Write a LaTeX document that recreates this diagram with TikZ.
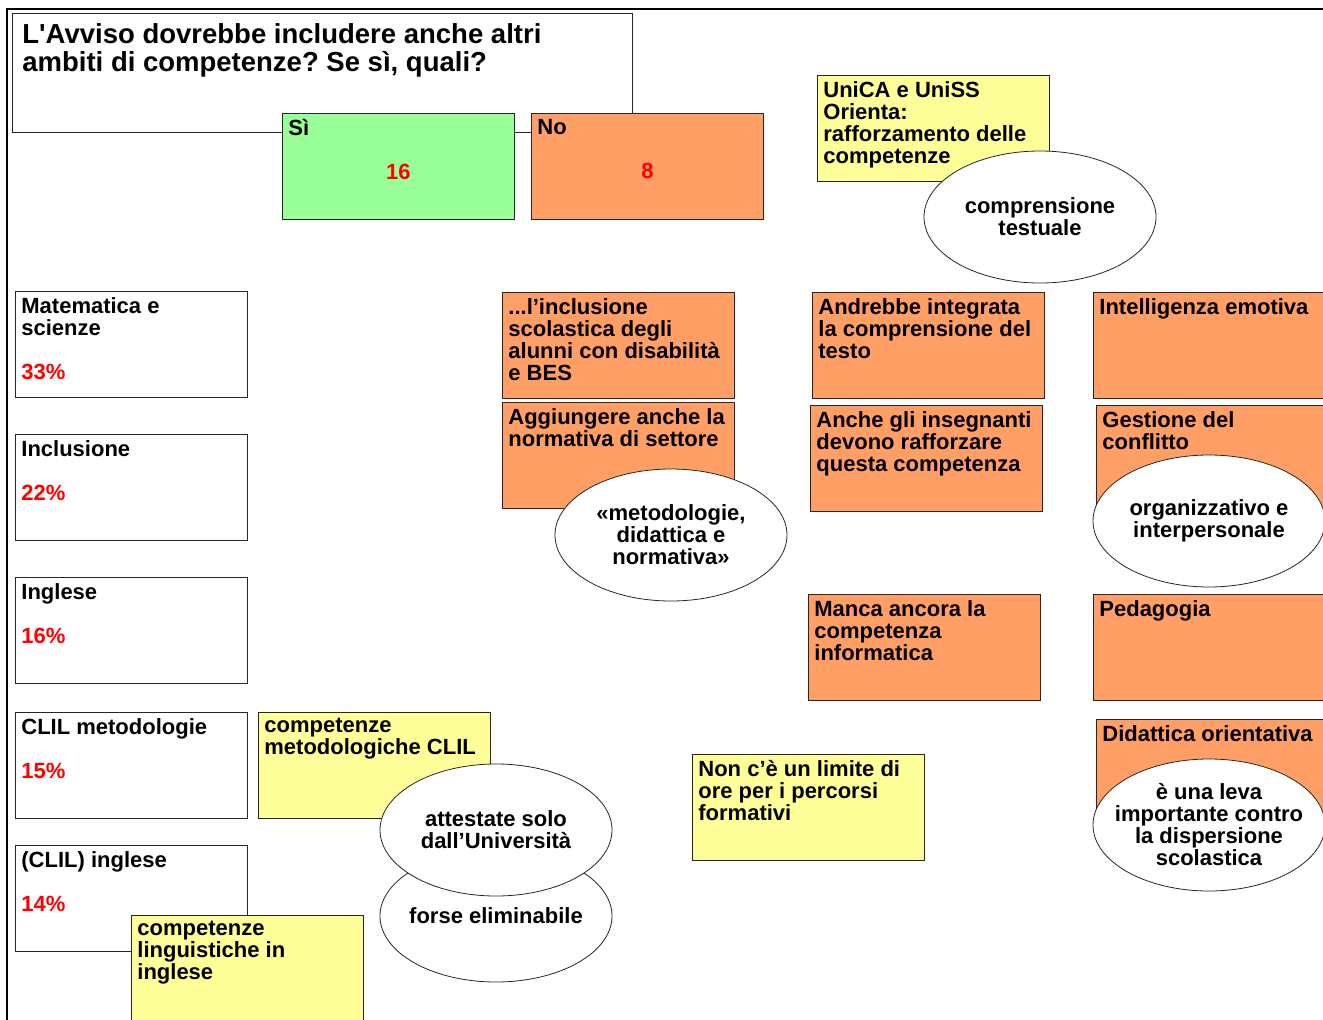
\documentclass[tikz,border=0pt]{standalone}
\usepackage{fontspec}
\setmainfont{Liberation Sans}
\usetikzlibrary{shapes.geometric}

\definecolor{verde}{HTML}{99FF99}
\definecolor{arancio}{HTML}{FF9F66}
\definecolor{giallo}{HTML}{FFFF99}

\newcommand{\card}[1]{\parbox[t][94pt][t]{220pt}{\raggedright #1}}

\begin{document}
\frenchspacing
\begin{tikzpicture}[x=1pt,y=-1pt,
	box/.style={draw=black!85, line width=0.8pt, rectangle, anchor=north west,
		inner xsep=6pt, inner ysep=6pt, font=\bfseries\fontsize{22}{22}\selectfont},
	bubble/.style={draw=black!85, line width=0.8pt, ellipse, fill=white,
		minimum width=232pt, minimum height=132pt, inner sep=-40pt, align=center,
		font=\bfseries\fontsize{22}{22}\selectfont}]
	\useasboundingbox (0,0) rectangle (1323,1020);
	\clip (0,0) rectangle (1323,1020);
	\draw[line width=2pt] (7,1020) -- (7,9) -- (1323,9);

	\node[box, fill=white, inner xsep=10pt, inner ysep=10pt,
		font=\bfseries\fontsize{27.5}{28}\selectfont] (Q) at (12,13)
		{\parbox[t][99pt][t]{600pt}{\raggedright L\textquotesingle Avviso dovrebbe includere anche altri\\ambiti di competenze? Se sì, quali?}};
	\node[box, fill=verde] (S) at (282,113) {\card{Sì\par\vspace{22pt}{\centering\color{red}16\par}}};
	\node[box, fill=arancio] (N) at (531,113) {\card{No\par\vspace{22pt}{\centering\color{red}8\par}}};

	\node[box, fill=white] (L1) at (15,291) {\card{Matematica e\\scienze\\[22pt]\textcolor{red}{33\%}}};
	\node[box, fill=white] (L2) at (15,434) {\card{Inclusione\\[22pt]\textcolor{red}{22\%}}};
	\node[box, fill=white] (L3) at (15,577) {\card{Inglese\\[22pt]\textcolor{red}{16\%}}};
	\node[box, fill=white] (L4) at (15,712) {\card{CLIL metodologie\\[22pt]\textcolor{red}{15\%}}};
	\node[box, fill=white] (L5) at (15,845) {\card{(CLIL) inglese\\[22pt]\textcolor{red}{14\%}}};

	\node[box, fill=giallo] (Y1) at (258,712) {\card{competenze\\metodologiche CLIL}};
	\node[bubble] (E2) at (496,916) {forse eliminabile};
	\node[bubble] (E1) at (496,830) {attestate solo\\dall’Università};
	\node[box, fill=giallo] (Y2) at (131,915) {\card{competenze\\linguistiche in\\inglese}};

	\node[box, fill=arancio] (O1) at (502,292) {\card{...l’inclusione\\scolastica degli\\alunni con disabilità\\e BES}};
	\node[box, fill=arancio] (O2) at (502,402) {\card{Aggiungere anche la\\normativa di settore}};
	\node[bubble] (E3) at (671,535) {«metodologie,\\didattica e\\normativa»};

	\node[box, fill=giallo] (Y3) at (817,75) {\card{UniCA e UniSS\\Orienta:\\rafforzamento delle\\competenze}};
	\node[bubble] (E4) at (1040,217) {comprensione\\testuale};

	\node[box, fill=arancio] (O3) at (812,292) {\card{Andrebbe integrata\\la comprensione del\\testo}};
	\node[box, fill=arancio] (O4) at (810,405) {\card{Anche gli insegnanti\\devono rafforzare\\questa competenza}};
	\node[box, fill=arancio] (O5) at (808,594) {\card{Manca ancora la\\competenza\\informatica}};
	\node[box, fill=giallo] (Y4) at (692,754) {\card{Non c’è un limite di\\ore per i percorsi\\formativi}};

	\node[box, fill=arancio] (O6) at (1093,292) {\card{Intelligenza emotiva}};
	\node[box, fill=arancio] (O7) at (1096,405) {\card{Gestione del\\conflitto}};
	\node[bubble] (E5) at (1209,521) {organizzativo e\\interpersonale};
	\node[box, fill=arancio] (O8) at (1093,594) {\card{Pedagogia}};
	\node[box, fill=arancio] (O9) at (1096,719) {\card{Didattica orientativa}};
	\node[bubble] (E6) at (1209,825) {è una leva\\importante contro\\la dispersione\\scolastica};
\end{tikzpicture}
\end{document}
